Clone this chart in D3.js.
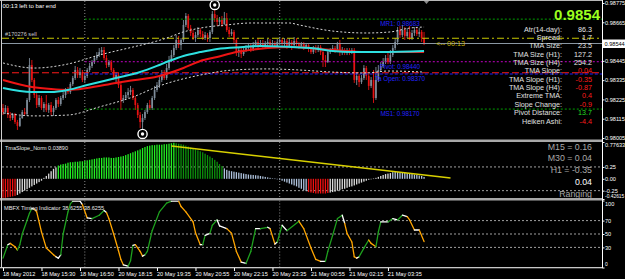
<!DOCTYPE html>
<html><head><meta charset="utf-8">
<script src="https://cdn.jsdelivr.net/npm/d3@7/dist/d3.min.js"></script>
<style>
html,body{margin:0;padding:0;background:#000;overflow:hidden}
svg{display:block}
text{font-family:"Liberation Sans",Arial,sans-serif}
</style></head><body>
<svg id="chart" width="625" height="279"></svg>
<script>
// ---------------- DATA ----------------
const timeLabels = ["18 May 2012","18 May 15:30","18 May 16:50","20 May 18:15","20 May 19:35","20 May 20:55","20 May 22:15","20 May 23:35","21 May 00:55","21 May 02:15","21 May 03:35"];
const timeLabelBars = [0,16,32,48,64,80,96,112,128,144,160];
const daySeparatorBars = [34,115];

// [open, high, low, close] per M5 bar
const candles = [
[0.98176,0.98199,0.98136,0.98153],[0.98153,0.98193,0.98142,0.98176],[0.98176,0.98188,0.98119,0.98136],[0.98136,0.98153,0.98102,0.98119],
[0.98119,0.98148,0.98108,0.98142],[0.98142,0.98148,0.98085,0.98096],[0.98096,0.98108,0.98051,0.98074],[0.98074,0.98131,0.98068,0.98119],
[0.98119,0.98165,0.98114,0.98153],[0.98153,0.98176,0.98131,0.98142],[0.98142,0.98233,0.98131,0.98222],[0.98222,0.98461,0.98210,0.98421],
[0.98421,0.98450,0.98324,0.98336],[0.98336,0.98347,0.98233,0.98250],[0.98250,0.98267,0.98176,0.98193],[0.98193,0.98250,0.98182,0.98233],
[0.98233,0.98245,0.98165,0.98176],[0.98176,0.98210,0.98153,0.98199],[0.98199,0.98250,0.98153,0.98165],[0.98165,0.98205,0.98148,0.98193],
[0.98193,0.98210,0.98136,0.98153],[0.98153,0.98188,0.98131,0.98176],[0.98176,0.98233,0.98165,0.98222],[0.98222,0.98239,0.98182,0.98199],
[0.98199,0.98245,0.98188,0.98233],[0.98233,0.98267,0.98222,0.98250],[0.98250,0.98290,0.98233,0.98279],[0.98279,0.98296,0.98256,0.98267],
[0.98267,0.98324,0.98256,0.98313],[0.98313,0.98359,0.98302,0.98347],[0.98347,0.98416,0.98336,0.98393],[0.98393,0.98410,0.98347,0.98364],
[0.98364,0.98404,0.98347,0.98381],[0.98381,0.98393,0.98324,0.98336],[0.98336,0.98376,0.98324,0.98359],[0.98359,0.98404,0.98347,0.98393],
[0.98393,0.98433,0.98381,0.98416],[0.98416,0.98450,0.98404,0.98438],[0.98438,0.98473,0.98427,0.98461],[0.98461,0.98495,0.98450,0.98478],
[0.98478,0.98518,0.98467,0.98495],[0.98495,0.98524,0.98478,0.98507],[0.98507,0.98524,0.98450,0.98461],[0.98461,0.98478,0.98404,0.98421],
[0.98421,0.98450,0.98410,0.98438],[0.98438,0.98450,0.98381,0.98393],[0.98393,0.98404,0.98336,0.98347],[0.98347,0.98381,0.98324,0.98364],
[0.98364,0.98376,0.98290,0.98307],[0.98307,0.98324,0.98165,0.98222],[0.98222,0.98250,0.98205,0.98233],[0.98233,0.98267,0.98222,0.98250],
[0.98250,0.98290,0.98233,0.98267],[0.98267,0.98302,0.98250,0.98279],[0.98279,0.98290,0.98222,0.98233],[0.98233,0.98245,0.98165,0.98193],
[0.98193,0.98205,0.98119,0.98136],[0.98136,0.98153,0.98062,0.98096],[0.98096,0.98142,0.98057,0.98119],[0.98119,0.98165,0.98108,0.98153],
[0.98153,0.98205,0.98142,0.98193],[0.98193,0.98222,0.98165,0.98176],[0.98176,0.98245,0.98165,0.98233],[0.98233,0.98302,0.98222,0.98279],
[0.98279,0.98324,0.98267,0.98307],[0.98307,0.98353,0.98290,0.98336],[0.98336,0.98393,0.98324,0.98370],[0.98370,0.98393,0.98336,0.98347],
[0.98347,0.98427,0.98336,0.98404],[0.98404,0.98473,0.98393,0.98450],[0.98450,0.98507,0.98438,0.98478],[0.98478,0.98535,0.98467,0.98518],
[0.98518,0.98592,0.98507,0.98564],[0.98564,0.98587,0.98518,0.98535],[0.98535,0.98575,0.98507,0.98564],[0.98564,0.98678,0.98553,0.98650],
[0.98650,0.98718,0.98638,0.98701],[0.98701,0.98712,0.98621,0.98632],[0.98632,0.98650,0.98587,0.98604],[0.98604,0.98621,0.98564,0.98575],
[0.98575,0.98610,0.98553,0.98592],[0.98592,0.98638,0.98581,0.98621],[0.98621,0.98632,0.98581,0.98598],[0.98598,0.98615,0.98564,0.98575],
[0.98575,0.98610,0.98564,0.98592],[0.98592,0.98604,0.98553,0.98575],[0.98575,0.98621,0.98553,0.98610],[0.98610,0.98729,0.98598,0.98712],
[0.98712,0.98735,0.98667,0.98689],[0.98689,0.98707,0.98644,0.98667],[0.98667,0.98695,0.98644,0.98678],[0.98678,0.98701,0.98638,0.98655],
[0.98655,0.98724,0.98650,0.98689],[0.98689,0.98718,0.98610,0.98621],[0.98621,0.98638,0.98581,0.98598],[0.98598,0.98627,0.98587,0.98610],
[0.98610,0.98621,0.98541,0.98564],[0.98564,0.98575,0.98473,0.98495],[0.98495,0.98524,0.98467,0.98507],[0.98507,0.98524,0.98461,0.98484],
[0.98484,0.98524,0.98473,0.98507],[0.98507,0.98535,0.98495,0.98518],[0.98518,0.98547,0.98507,0.98530],[0.98530,0.98541,0.98495,0.98513],
[0.98513,0.98553,0.98501,0.98535],[0.98535,0.98564,0.98524,0.98553],[0.98553,0.98575,0.98518,0.98530],[0.98530,0.98564,0.98524,0.98547],
[0.98547,0.98564,0.98513,0.98524],[0.98524,0.98558,0.98518,0.98541],[0.98541,0.98570,0.98530,0.98553],[0.98553,0.98570,0.98524,0.98535],
[0.98535,0.98564,0.98524,0.98547],[0.98547,0.98558,0.98518,0.98530],[0.98530,0.98570,0.98518,0.98553],[0.98553,0.98581,0.98535,0.98564],
[0.98564,0.98575,0.98524,0.98541],[0.98541,0.98575,0.98530,0.98558],[0.98558,0.98570,0.98513,0.98530],[0.98530,0.98575,0.98518,0.98553],
[0.98553,0.98564,0.98507,0.98535],[0.98535,0.98581,0.98524,0.98558],[0.98558,0.98575,0.98530,0.98541],[0.98541,0.98553,0.98513,0.98530],
[0.98530,0.98553,0.98518,0.98541],[0.98541,0.98553,0.98507,0.98524],[0.98524,0.98547,0.98513,0.98535],[0.98535,0.98541,0.98495,0.98513],
[0.98513,0.98524,0.98484,0.98495],[0.98495,0.98530,0.98484,0.98518],[0.98518,0.98535,0.98490,0.98507],[0.98507,0.98535,0.98495,0.98524],
[0.98524,0.98535,0.98478,0.98495],[0.98495,0.98507,0.98410,0.98450],[0.98450,0.98478,0.98410,0.98438],[0.98438,0.98507,0.98433,0.98495],
[0.98495,0.98518,0.98484,0.98507],[0.98507,0.98535,0.98495,0.98518],[0.98518,0.98530,0.98490,0.98507],[0.98507,0.98553,0.98495,0.98541],
[0.98541,0.98564,0.98473,0.98495],[0.98495,0.98524,0.98478,0.98507],[0.98507,0.98518,0.98478,0.98490],[0.98490,0.98518,0.98478,0.98507],
[0.98507,0.98518,0.98478,0.98495],[0.98495,0.98518,0.98484,0.98507],[0.98507,0.98518,0.98319,0.98336],[0.98336,0.98376,0.98307,0.98359],
[0.98359,0.98370,0.98296,0.98324],[0.98324,0.98364,0.98313,0.98347],[0.98347,0.98421,0.98336,0.98404],[0.98404,0.98416,0.98336,0.98359],
[0.98359,0.98370,0.98279,0.98302],[0.98302,0.98353,0.98290,0.98336],[0.98336,0.98393,0.98205,0.98233],[0.98233,0.98410,0.98222,0.98336],
[0.98336,0.98421,0.98324,0.98393],[0.98393,0.98438,0.98381,0.98416],[0.98416,0.98461,0.98404,0.98438],[0.98438,0.98478,0.98427,0.98461],
[0.98461,0.98495,0.98427,0.98438],[0.98438,0.98507,0.98427,0.98478],[0.98478,0.98535,0.98467,0.98518],[0.98518,0.98575,0.98507,0.98553],
[0.98553,0.98638,0.98535,0.98621],[0.98621,0.98644,0.98575,0.98592],[0.98592,0.98650,0.98581,0.98621],[0.98621,0.98638,0.98564,0.98587],
[0.98587,0.98632,0.98575,0.98610],[0.98610,0.98644,0.98564,0.98575],[0.98575,0.98621,0.98564,0.98604],[0.98604,0.98638,0.98587,0.98621],
[0.98621,0.98632,0.98587,0.98598],[0.98598,0.98632,0.98581,0.98610],[0.98610,0.98621,0.98553,0.98575],[0.98575,0.98610,0.98535,0.98544]
];

// indicator lines on the price chart: [bar, price]
const tmaCenter = [[0,0.98290],[12,0.98267],[20,0.98267],[27,0.98279],[35,0.98307],[47,0.98347],[57,0.98381],[64,0.98416],[69,0.98444],[75,0.98473],[82,0.98495],[89,0.98513],[100,0.98524],[107,0.98530],[120,0.98524],[128,0.98518],[137,0.98501],[145,0.98495],[157,0.98495],[175,0.98501]];
const maRed = [[0,0.98336],[12,0.98296],[20,0.98284],[27,0.98279],[35,0.98290],[47,0.98319],[55,0.98336],[61,0.98347],[65,0.98359],[75,0.98404],[82,0.98444],[89,0.98467],[97,0.98495],[110,0.98518],[120,0.98524],[137,0.98507],[151,0.98495],[175,0.98495]];
const bandUpper = [[0,0.98433],[13,0.98404],[27,0.98427],[40,0.98478],[54,0.98524],[61,0.98547],[68,0.98575],[75,0.98610],[82,0.98632],[93,0.98650],[103,0.98661],[119,0.98661],[123,0.98650],[137,0.98615],[151,0.98604],[161,0.98610],[169,0.98632],[175,0.98638]];
const bandLower = [[0,0.98148],[13,0.98131],[27,0.98136],[40,0.98182],[54,0.98239],[65,0.98302],[82,0.98364],[96,0.98393],[110,0.98399],[123,0.98393],[137,0.98381],[151,0.98376],[160,0.98387],[175,0.98381]];
const fractals = [[58,0.98028],[88,0.98764]];

const pivotNames = ["MR1","Pivot","Ta Open","MS1"];
const pivotPrices = [0.98683,0.98440,0.98370,0.98170];
const tmaH1Level = 0.98377;
const orderLabel = "#170276 sell";
const orderPrice = 0.98574;
const bidPrice = 0.98544;
const priceTicks = [0.98775,0.98665,0.98445,0.98335,0.98225,0.98115,0.98005];

const infoLabels = ["Atr(14-day):","Spread:","TMA Size:","TMA Size (H1):","TMA Size (H4):","TMA Slope:","TMA Slope (H1):","TMA Slope (H4):","Extreme TMA:","Slope Change:","Pivot Distance:","Heiken Ashi:"];
const infoValues = ["86.3","1.7","23.5","127.2","254.2","0.04","-0.35","-0.87","0.4","-0.9","13.7","-4.4"];
const infoTone = ["n","n","n","n","n","bad","bad","bad","bad","bad","good","bad"];

// TmaSlope_Norm histogram
const slopeValues = [
-0.40,-0.40,-0.39,-0.38,-0.37,-0.36,
-0.34,-0.31,-0.28,-0.25,-0.22,-0.19,-0.16,-0.13,-0.10,-0.07,-0.04,
0.02,0.06,0.11,0.16,0.21,0.24,
0.28,0.30,0.31,0.32,0.34,0.35,0.35,0.36,0.36,0.37,0.37,0.38,0.39,0.40,0.41,0.42,0.43,0.44,0.44,0.45,0.45,0.45,0.44,0.44,0.45,0.46,0.47,0.48,0.50,0.52,0.54,0.56,0.58,0.60,0.62,0.65,0.67,0.69,0.70,0.71,0.71,0.72,0.72,0.72,0.73,0.73,0.74,0.75,0.76,
0.75,0.74,0.73,0.72,0.70,0.68,0.66,0.64,0.62,0.60,0.58,0.56,0.53,0.50,0.47,0.44,0.40,0.36,0.31,0.27,
0.22,0.19,0.17,0.16,0.15,0.14,0.13,0.12,0.11,0.10,0.09,0.085,0.08,0.075,0.07,0.06,0.05,0.04,0.03,0.02,0.01,0.005,-0.005,
-0.02,-0.04,-0.06,-0.08,-0.10,-0.12,-0.14,-0.16,-0.19,-0.21,-0.24,-0.26,
-0.28,-0.29,-0.30,-0.31,-0.31,-0.31,-0.31,-0.31,-0.30,
-0.29,-0.28,-0.27,-0.25,-0.24,-0.22,-0.21,-0.19,-0.17,-0.16,-0.14,-0.12,-0.10,-0.08,-0.06,-0.04,-0.02,-0.01,0.005,0.02,
0.04,0.06,0.08,0.10,0.11,0.12,
0.14,0.145,0.145,0.14,0.135,0.13,0.12,0.11,0.10,0.09,0.08,0.07,0.06,0.0389];
const slopeStates = [[0,5,"down"],[6,22,"neutral"],[23,71,"up"],[72,91,"upFading"],[92,126,"flat"],[127,135,"down"],[136,161,"neutral"],[162,175,"flat"]];
const slopeTrend = [[70,0.69],[186,0.017]];
const slopeTicks = [0.77633,0.25,0,-0.25,-0.42615];
const slopeTickLabels = ["0.77633","0.25","0.00","-0.25","-0.42615"];
const slopeLevels = [0.25,-0.25];
const tfLabels = ["M15 = 0.16","M30 = 0.04","H1 = -0.35","0.04","Ranging"];

// MBFX Timing: [bar, value, segment state]
const mbfx = [[0,14,"g"],[2,34,"g"],[3,36,"w"],[5,31,"o"],[6,26,"o"],[7,34,"g"],[8,50,"g"],[11,81,"g"],[12,88,"g"],[13,87,"w"],[14,83,"o"],[16,53,"o"],[18,29,"o"],[21,19,"o"],[22,16,"o"],[23,14,"w"],[24,19,"w"],[25,50,"g"],[27,83,"g"],[28,95,"g"],[29,99,"g"],[32,99,"w"],[33,94,"w"],[35,74,"o"],[37,73,"w"],[40,78,"g"],[42,85,"g"],[43,82,"w"],[44,73,"o"],[46,50,"o"],[48,25,"o"],[49,12,"o"],[50,4,"o"],[52,2,"w"],[53,10,"g"],[54,33,"g"],[55,34,"w"],[57,24,"o"],[58,17,"o"],[59,19,"w"],[60,24,"g"],[62,55,"g"],[65,83,"g"],[68,96,"g"],[70,99,"g"],[73,99,"w"],[74,91,"o"],[76,83,"o"],[79,68,"o"],[80,52,"o"],[82,34,"o"],[83,34,"w"],[84,48,"g"],[86,51,"w"],[87,63,"g"],[89,71,"g"],[90,62,"w"],[93,58,"w"],[95,51,"o"],[97,24,"o"],[99,8,"o"],[101,6,"w"],[103,24,"g"],[105,58,"g"],[107,58,"w"],[110,60,"g"],[111,58,"w"],[113,35,"o"],[114,38,"w"],[116,63,"g"],[118,55,"w"],[123,69,"g"],[125,58,"o"],[128,29,"o"],[130,12,"o"],[132,9,"o"],[134,9,"w"],[135,24,"g"],[137,48,"g"],[139,73,"g"],[141,78,"g"],[142,66,"w"],[143,51,"o"],[145,38,"o"],[146,16,"o"],[147,14,"o"],[148,16,"w"],[150,29,"g"],[152,41,"g"],[153,36,"o"],[155,31,"o"],[156,53,"g"],[157,68,"g"],[160,68,"w"],[162,73,"g"],[164,71,"w"],[166,78,"g"],[168,76,"w"],[169,71,"o"],[171,56,"o"],[173,56,"w"],[175,38.6255,"o"]];
const mbfxTicks = [100,70,50,30,0];
const mbfxLevels = [70,50,30];

// ---------------- DRAW ----------------
const FONT = '"Liberation Sans",Arial,sans-serif';
const svg = d3.select("#chart");
svg.append("rect").attr("width",625).attr("height",279).attr("fill","#000");

const x = d3.scaleLinear().domain([0,249]).range([3,602.1]);
const yMain = d3.scaleLinear().domain([0.98005,0.98775]).range([138,3]);
const ySlope = d3.scaleLinear().domain([-0.42615,0.77633]).range([199,142]);
const yMbfx = d3.scaleLinear().domain([0,100]).range([267.5,200.5]);
const panes = {main:[1,139.5], slope:[142,198], mbfx:[200.5,267]};

const defs = svg.append("defs");
function mkClip(id,[y0,y1]){ defs.append("clipPath").attr("id",id).append("rect").attr("x",2).attr("y",y0).attr("width",600.5).attr("height",y1-y0); }
mkClip("cMain",panes.main); mkClip("cSlope",panes.slope); mkClip("cMbfx",panes.mbfx);
const gMain = svg.append("g").attr("clip-path","url(#cMain)");
const gSlope = svg.append("g").attr("clip-path","url(#cSlope)");
const gMbfx = svg.append("g").attr("clip-path","url(#cMbfx)");

// day separators
[[gMain,panes.main],[gSlope,panes.slope],[gMbfx,panes.mbfx]].forEach(([g,[y0,y1]])=>{
  g.selectAll(null).data(daySeparatorBars).join("line")
   .attr("x1",d=>x(d)).attr("x2",d=>x(d)).attr("y1",y0).attr("y2",y1)
   .attr("stroke","#8a8a8a").attr("stroke-width",1).attr("stroke-dasharray","1,2");
});

// candles
const bull = "#7e8c9a", bear = "#e81212";
const cg = gMain.append("g");
candles.forEach((c,i)=>{
  const [o,h,l,cl] = c; const col = cl>=o ? bull : bear; const cx = x(i);
  cg.append("line").attr("x1",cx).attr("x2",cx).attr("y1",yMain(h)).attr("y2",yMain(l)).attr("stroke",col).attr("stroke-width",0.9);
  const yt = yMain(Math.max(o,cl)), yb = yMain(Math.min(o,cl));
  cg.append("rect").attr("x",cx-0.85).attr("width",1.7).attr("y",yt).attr("height",Math.max(0.8,yb-yt)).attr("fill",col);
});

// horizontal levels
const hl = (price, fromBar, stroke, dash, w) => gMain.append("line")
  .attr("x1", fromBar==null ? 2 : x(fromBar)).attr("x2",602).attr("y1",yMain(price)).attr("y2",yMain(price))
  .attr("stroke",stroke).attr("stroke-width",w||1).attr("stroke-dasharray",dash);
const pivotStyles = [["#00a000","2,2"],["#c400c4","2,2"],["#2020ff","3,2"],["#00a000","2,2"]];
hl(bidPrice,null,"#8a97a3",null,1);
hl(orderPrice,null,"#c8c800","7,3,2,3",1.2);
hl(tmaH1Level,null,"#ff1a1a","7,3",1);
pivotPrices.forEach((p,k)=>hl(p,daySeparatorBars[0],pivotStyles[k][0],pivotStyles[k][1],1));

// bands & moving lines
const lineGen = (ys)=>d3.line().x(d=>x(d[0])).y(d=>ys(d[1])).curve(d3.curveMonotoneX);
gMain.append("path").attr("d",lineGen(yMain)(bandUpper)).attr("fill","none").attr("stroke","#d8d8d8").attr("stroke-width",1).attr("stroke-dasharray","2,2");
gMain.append("path").attr("d",lineGen(yMain)(bandLower)).attr("fill","none").attr("stroke","#d8d8d8").attr("stroke-width",1).attr("stroke-dasharray","2,2");
gMain.append("path").attr("d",lineGen(yMain)(maRed)).attr("fill","none").attr("stroke","#ee1414").attr("stroke-width",2);
gMain.append("path").attr("d",lineGen(yMain)(tmaCenter)).attr("fill","none").attr("stroke","#2ee0e0").attr("stroke-width",2);

// fractal markers
fractals.forEach(([b,p])=>{
  gMain.append("circle").attr("cx",x(b)).attr("cy",yMain(p)).attr("r",4.6).attr("fill","#000").attr("stroke","#fff").attr("stroke-width",1.4);
  gMain.append("circle").attr("cx",x(b)).attr("cy",yMain(p)).attr("r",1.7).attr("fill","#fff");
});

// pivot labels
pivotNames.forEach((n,k)=>{
  gMain.append("text").attr("x",x(165)).attr("y",yMain(pivotPrices[k])+7).attr("text-anchor","middle")
   .attr("fill","#2424ff").style("font-size","6.3px").text(n+": "+pivotPrices[k].toFixed(5));
});

// texts main pane
svg.append("text").attr("x",2.5).attr("y",7.6).attr("fill","#fff").style("font-size","6px").text("00:13 left to bar end");
svg.append("text").attr("x",5).attr("y",yMain(orderPrice)-2).attr("fill","#c8c8c8").style("font-size","5.6px").text(orderLabel);
svg.append("text").attr("x",x(180)).attr("y",yMain(bidPrice)+2.6).attr("fill","#c8b400").style("font-size","7.2px").text("<-- 00:13");
svg.append("text").attr("x",600).attr("y",20).attr("text-anchor","end").attr("fill","#9cff1e").style("font-size","15px").style("font-weight","bold").text(bidPrice.toFixed(4));

const toneColor = {n:"#e6e6e6", bad:"#ff1c1c", good:"#22dd22"};
infoLabels.forEach((t,k)=>{
  const yy = 31.6 + k*8.36;
  svg.append("text").attr("x",562).attr("y",yy).attr("text-anchor","end").attr("fill","#e0e0e0").style("font-size","7.2px").text(t);
  svg.append("text").attr("x",592).attr("y",yy).attr("text-anchor","end").attr("fill",toneColor[infoTone[k]]).style("font-size","7.2px").text(infoValues[k]);
});

// chart shift marker
svg.append("path").attr("d",`M${x(176)-3},0.5 L${x(176)+3},0.5 L${x(176)},4 Z`).attr("fill","#8a8a8a");

// ---- slope pane ----
const stateColor = {down:"#f01010", neutral:"#dcdcdc", up:"#22f022", upFading:"#0c900c", flat:"#b0c4de"};
const stateOf = i => slopeStates.find(s=>i>=s[0]&&i<=s[1])[2];
slopeLevels.forEach(v=>gSlope.append("line").attr("x1",2).attr("x2",602).attr("y1",ySlope(v)).attr("y2",ySlope(v)).attr("stroke","#a0a0a0").attr("stroke-dasharray","2,2"));
slopeValues.forEach((v,i)=>{
  const y0 = ySlope(0), y1 = ySlope(v);
  gSlope.append("rect").attr("x",x(i)-0.65).attr("width",1.3).attr("y",Math.min(y0,y1)).attr("height",Math.max(0.5,Math.abs(y1-y0))).attr("fill",stateColor[stateOf(i)]);
});
gSlope.append("path").attr("d",d3.line().x(d=>x(d[0])).y(d=>ySlope(d[1]))(slopeTrend)).attr("stroke","#d8d000").attr("stroke-width",1.5).attr("fill","none");
svg.append("text").attr("x",5).attr("y",150.2).attr("fill","#e8e8e8").style("font-size","5.5px").text("TmaSlope_Norm "+slopeValues[slopeValues.length-1].toFixed(5));
const tfY = [149.8,161.4,173,185.4,197.2];
const tfCol = ["#a8a8a8","#a8a8a8","#a8a8a8","#ffffff","#a8a8a8"];
tfLabels.forEach((t,k)=>svg.append("text").attr("x",592).attr("y",tfY[k]).attr("text-anchor","end").attr("fill",tfCol[k]).style("font-size","8.8px").text(t));

// ---- MBFX pane ----
mbfxLevels.forEach(v=>gMbfx.append("line").attr("x1",2).attr("x2",602).attr("y1",yMbfx(v)).attr("y2",yMbfx(v)).attr("stroke","#a0a0a0").attr("stroke-dasharray","2,2"));
const mbfxColor = {g:"#1ea01e", o:"#ffa500", w:"#ffffff"};
for(let k=1;k<mbfx.length;k++){
  const a=mbfx[k-1], b=mbfx[k];
  gMbfx.append("line").attr("x1",x(a[0])).attr("y1",yMbfx(a[1])).attr("x2",x(b[0])).attr("y2",yMbfx(b[1]))
    .attr("stroke",mbfxColor[b[2]]).attr("stroke-width",1.3).attr("stroke-linecap","round");
}
const mbfxLast = mbfx[mbfx.length-1][1].toFixed(4);
svg.append("text").attr("x",4).attr("y",209.8).attr("fill","#e8e8e8").style("font-size","5.6px").text("MBFX Timing Indicator "+mbfxLast+" "+mbfxLast);

// ---- frame ----
svg.append("rect").attr("x",0).attr("y",0).attr("width",603).attr("height",1).attr("fill","#b8b8b8");
svg.append("rect").attr("x",0).attr("y",139.5).attr("width",603).attr("height",2.5).attr("fill","#a8a8a8");
svg.append("rect").attr("x",0).attr("y",198).attr("width",603).attr("height",2.5).attr("fill","#a8a8a8");
svg.append("rect").attr("x",0).attr("y",267).attr("width",603).attr("height",1.3).attr("fill","#c8c8c8");
svg.append("rect").attr("x",1).attr("y",0).attr("width",1).attr("height",268).attr("fill","#d0d0d0");
svg.append("rect").attr("x",602).attr("y",0).attr("width",1).attr("height",268).attr("fill","#ffffff");

// ---- axes ----
function rightAxis(scale, ticks, labels, topVal, botVal){
  const ax = d3.axisRight(scale).tickValues(ticks).tickFormat((d,i)=>labels[i]).tickSize(2).tickPadding(0.5);
  const g = svg.append("g").attr("transform","translate(602.5,0)").call(ax);
  g.attr("font-family",FONT).attr("font-size",5.6);
  g.select(".domain").remove();
  g.selectAll(".tick line").attr("stroke","#fff");
  g.selectAll(".tick text").attr("fill","#fff");
  if(topVal!=null) g.selectAll(".tick").filter(d=>d===topVal).select("text").attr("y",3);
  if(botVal!=null) g.selectAll(".tick").filter(d=>d===botVal).select("text").attr("y",-3.5).attr("font-size",4.9);
  return g;
}
rightAxis(yMain, priceTicks, priceTicks.map(d=>d.toFixed(5)), null, null);
rightAxis(ySlope, slopeTicks, slopeTickLabels, 0.77633, -0.42615);
rightAxis(yMbfx, mbfxTicks, mbfxTicks.map(String), 100, 0);

// bid box
svg.append("rect").attr("x",603).attr("y",yMain(bidPrice)-4).attr("width",22).attr("height",8.5).attr("fill","#fff");
svg.append("text").attr("x",604.5).attr("y",yMain(bidPrice)+2).attr("fill","#000").style("font-size","5.6px").text(bidPrice.toFixed(5));

// time axis
const tax = d3.axisBottom(x).tickValues(timeLabelBars).tickFormat((d,i)=>timeLabels[i]).tickSize(3).tickPadding(1);
const tg = svg.append("g").attr("transform","translate(0,268)").call(tax);
tg.attr("font-family",FONT).attr("font-size",5.6);
tg.select(".domain").remove();
tg.selectAll(".tick line").attr("stroke","#fff");
tg.selectAll(".tick text").attr("fill","#fff").attr("text-anchor","start").attr("x",-0.6);
</script>
</body></html>
